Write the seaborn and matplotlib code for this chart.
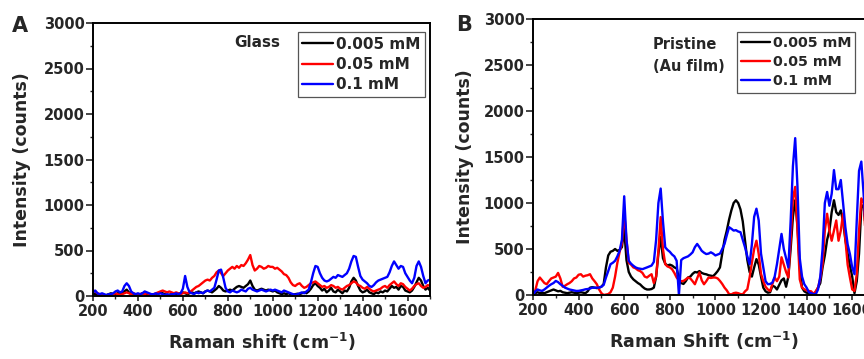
import numpy as np
import pandas as pd
import matplotlib
matplotlib.use("Agg")
import matplotlib.pyplot as plt
import seaborn as sns
from matplotlib.ticker import MultipleLocator

# ---------------- data ----------------
SHIFT = list(range(200, 1701, 10))
LABELS = ["0.005 mM", "0.05 mM", "0.1 mM"]
COLORS = ["black", "red", "blue"]

BLACK_A = [30, 20, 10, 15, 10, 5, 10, 20, 30, 20,
           15, 30, 40, 30, 50, 70, 40, 20, 10, 20,
           10, 15, 30, 20, 10, 5, 10, 15, 20, 30,
           40, 30, 20, 10, 15, 20, 30, 20, 25, 30,
           40, 30, 20, 30, 40, 30, 40, 50, 40, 30,
           50, 60, 50, 40, 60, 80, 110, 90, 60, 50,
           60, 70, 60, 80, 100, 110, 100, 90, 110, 130,
           170, 110, 70, 60, 70, 80, 70, 60, 70, 60,
           50, 60, 40, 30, 20, 30, 20, 30, 20, 15,
           20, 25, 20, 30, 40, 30, 50, 80, 120, 140,
           110, 90, 60, 80, 40, 60, 90, 50, 40, 70,
           50, 30, 60, 50, 90, 160, 200, 170, 110, 60,
           40, 50, 70, 40, 30, 20, 40, 30, 50, 40,
           60, 50, 80, 110, 90, 100, 70, 110, 100, 60,
           50, 40, 60, 100, 150, 200, 170, 110, 70, 90,
           60]
RED_A = [60, 50, 30, 20, 10, 10, 5, 10, 10, 20,
         30, 20, 10, 20, 30, 40, 30, 20, 30, 20,
         10, 20, 30, 20, 30, 20, 10, 20, 30, 40,
         50, 60, 50, 40, 50, 40, 30, 40, 30, 20,
         30, 40, 30, 40, 60, 80, 100, 110, 130, 150,
         170, 180, 170, 200, 220, 260, 280, 250, 220, 250,
         280, 300, 320, 300, 330, 310, 340, 330, 360, 400,
         450, 340, 280, 300, 330, 320, 300, 310, 330, 320,
         320, 300, 310, 290, 270, 240, 230, 200, 150, 120,
         110, 130, 140, 110, 90, 100, 120, 140, 150, 160,
         140, 120, 100, 110, 90, 100, 120, 110, 90, 100,
         80, 70, 90, 110, 120, 140, 160, 150, 120, 110,
         90, 80, 100, 80, 60, 50, 60, 70, 80, 100,
         110, 90, 120, 140, 160, 130, 110, 140, 130, 100,
         80, 60, 80, 110, 130, 140, 110, 90, 100, 120,
         110]
BLUE_A = [40, 60, 30, 20, 30, 20, 10, 20, 20, 30,
          50, 60, 40, 50, 110, 140, 110, 50, 30, 20,
          30, 20, 30, 50, 40, 30, 20, 20, 30, 20,
          30, 20, 10, 20, 10, 20, 20, 30, 20, 30,
          80, 220, 100, 40, 30, 20, 40, 30, 40, 30,
          50, 60, 50, 70, 90, 180, 280, 290, 200, 90,
          50, 40, 60, 50, 40, 50, 70, 60, 50, 80,
          90, 70, 60, 50, 60, 70, 60, 50, 60, 70,
          60, 70, 60, 50, 40, 60, 50, 40, 30, 20,
          15, 20, 30, 40, 30, 50, 70, 150, 250, 330,
          320, 250, 200, 170, 160, 170, 190, 210, 200, 230,
          220, 210, 230, 250, 300, 380, 440, 430, 320, 220,
          180, 160, 140, 110, 100, 120, 150, 170, 180, 190,
          200, 210, 260, 330, 380, 340, 300, 330, 320, 250,
          210, 170, 140, 200, 330, 380, 320, 220, 140, 170,
          180]

BLACK_B = [0, 20, 30, 20, 25, 20, 30, 40, 50, 60,
           50, 40, 45, 30, 25, 20, 25, 30, 25, 20,
           25, 30, 25, 20, 40, 80, 85, 80, 75, 80,
           90, 120, 300, 430, 470, 480, 500, 480, 490, 520,
           720, 380, 250, 200, 170, 150, 130, 115, 90, 70,
           60, 60, 65, 80, 200, 450, 630, 400, 340, 320,
           330, 320, 300, 290, 180, 130, 120, 150, 190, 200,
           230, 250, 245, 260, 240, 230, 225, 215, 210, 205,
           230, 260, 300, 450, 600, 700, 820, 920, 1000, 1030,
           1000, 930, 800, 590, 380, 250, 200, 300, 390, 330,
           200, 80, 40, 25, 30, 100, 90, 60, 110, 160,
           180, 90, 200, 500, 850, 1030, 750, 300, 80, 40,
           25, 20, 10, 7, 30, 80, 130, 300, 430, 600,
           700, 900, 1030, 900, 870, 920, 800, 600, 450, 320,
           200, 20, 150, 450, 950, 980, 700, 400, 250, 200,
           180]
RED_B = [0, 50, 150, 190, 160, 130, 117, 150, 180, 190,
         200, 240, 180, 90, 100, 117, 130, 150, 180, 190,
         220, 226, 200, 210, 215, 226, 180, 150, 117, 60,
         20, 0, 5, 10, 30, 80, 200, 350, 470, 560,
         900, 600, 350, 330, 300, 290, 270, 260, 240, 200,
         190, 210, 226, 130, 200, 480, 847, 500, 335, 310,
         300, 280, 240, 190, 160, 150, 153, 170, 190, 180,
         150, 117, 180, 245, 160, 117, 150, 190, 185, 190,
         190, 180, 153, 120, 80, 50, 10, 7, 20, 25,
         20, 10, 7, 40, 62, 190, 350, 500, 590, 445,
         230, 150, 90, 60, 44, 120, 190, 150, 200, 410,
         330, 250, 190, 600, 1050, 1175, 700, 170, 80, 62,
         50, 44, 40, 10, 40, 80, 180, 335, 700, 883,
         700, 590, 700, 810, 590, 700, 883, 600, 330, 190,
         60, 44, 226, 700, 1050, 1000, 600, 300, 200, 180,
         170]
BLUE_B = [0, 40, 60, 50, 45, 60, 80, 100, 117, 130,
          153, 140, 117, 100, 80, 70, 60, 55, 50, 44,
          45, 50, 55, 62, 65, 70, 80, 78, 80, 80,
          90, 110, 190, 260, 335, 350, 372, 420, 482, 600,
          1073, 600, 372, 340, 318, 300, 290, 285, 281, 290,
          300, 310, 320, 360, 600, 1000, 1157, 800, 518, 490,
          470, 440, 420, 372, 0, 380, 400, 410, 420, 440,
          464, 520, 555, 520, 480, 460, 445, 450, 464, 450,
          430, 440, 450, 500, 555, 650, 737, 720, 700, 705,
          690, 683, 600, 518, 420, 335, 550, 850, 938, 810,
          450, 300, 150, 117, 120, 135, 200, 335, 500, 664,
          500, 400, 300, 800, 1400, 1705, 1175, 400, 200, 117,
          80, 30, 20, 10, 7, 60, 200, 500, 1000, 1120,
          970, 1100, 1358, 1150, 1150, 1250, 1000, 737, 550, 445,
          300, 226, 810, 1350, 1450, 1100, 700, 400, 300, 260,
          250]

for arr in (BLACK_A, RED_A, BLUE_A, BLACK_B, RED_B, BLUE_B):
    assert len(arr) == len(SHIFT), len(arr)


def long_frame(series):
    frames = []
    for lab, vals in zip(LABELS, series):
        frames.append(pd.DataFrame({"shift": SHIFT, "intensity": vals, "conc": lab}))
    return pd.concat(frames, ignore_index=True)


df_a = long_frame([BLACK_A, RED_A, BLUE_A])
df_b = long_frame([BLACK_B, RED_B, BLUE_B])

# ---------------- style ----------------
sns.set_theme(style="ticks")
plt.rcParams["font.family"] = ["DejaVu Sans"]
plt.rcParams["font.weight"] = "bold"
plt.rcParams["axes.labelweight"] = "bold"
plt.rcParams["mathtext.fontset"] = "custom"
plt.rcParams["mathtext.rm"] = "DejaVu Sans:bold"
plt.rcParams["mathtext.it"] = "DejaVu Sans:bold"
plt.rcParams["mathtext.bf"] = "DejaVu Sans:bold"

fig = plt.figure(figsize=(8.64, 3.59), dpi=100)
ax_a = fig.add_axes([93 / 864, 63 / 359, 337 / 864, 273 / 359])
ax_b = fig.add_axes([533 / 864, 64 / 359, 342 / 864, 276 / 359])

palette = dict(zip(LABELS, COLORS))

for ax, df, xl, ypad in ((ax_a, df_a, "Raman shift (cm$^{-1}$)", 9),
                         (ax_b, df_b, "Raman Shift (cm$^{-1}$)", 7)):
    sns.lineplot(data=df, x="shift", y="intensity", hue="conc", hue_order=LABELS,
                 palette=palette, estimator=None, sort=False, linewidth=1.7, ax=ax)
    ax.set_xlim(200, 1700)
    ax.set_ylim(0, 3000)
    ax.xaxis.set_major_locator(MultipleLocator(200))
    ax.xaxis.set_minor_locator(MultipleLocator(100))
    ax.yaxis.set_major_locator(MultipleLocator(500))
    ax.yaxis.set_minor_locator(MultipleLocator(250))
    ax.tick_params(axis="x", which="major", direction="out", length=3.5, width=1.2,
                   labelsize=10.5, pad=2, top=False)
    ax.tick_params(axis="y", which="major", direction="out", length=5, width=1.2,
                   labelsize=10.5, pad=1, right=False)
    ax.tick_params(which="minor", direction="out", length=2.5, width=1.0,
                   top=False, right=False)
    for lab in ax.get_xticklabels() + ax.get_yticklabels():
        lab.set_fontweight("bold")
    for sp in ax.spines.values():
        sp.set_visible(True)
        sp.set_linewidth(1.4)
        sp.set_color("black")
    ax.set_xlabel(xl, fontsize=12.5, fontweight="bold", labelpad=9)
    ax.set_ylabel("Intensity (counts)", fontsize=12.5, fontweight="bold", labelpad=ypad)

for ax, anchor, fs in ((ax_a, (0.608, 0.967), 11), (ax_b, (0.596, 0.953), 10.3)):
    leg = ax.legend(loc="upper left", bbox_to_anchor=anchor, borderaxespad=0,
                    fancybox=False, edgecolor="#555555", framealpha=1,
                    prop={"weight": "bold", "size": fs}, handlelength=2.0,
                    handletextpad=0.2, labelspacing=0.35, borderpad=0.3, title=None)
    leg.get_frame().set_linewidth(0.9)

ax_a.text(0.555, 0.927, "Glass", transform=ax_a.transAxes, ha="right", va="center",
          fontsize=11, fontweight="bold")
ax_b.text(0.351, 0.935, "Pristine\n(Au film)", transform=ax_b.transAxes, ha="left",
          va="top", fontsize=10.5, fontweight="bold", linespacing=1.55)

fig.text(20 / 864, 1 - 26 / 359, "A", fontsize=15, fontweight="bold", ha="center", va="center")
fig.text(464 / 864, 1 - 25 / 359, "B", fontsize=15, fontweight="bold", ha="center", va="center")

fig.savefig("out.png", dpi=100)
